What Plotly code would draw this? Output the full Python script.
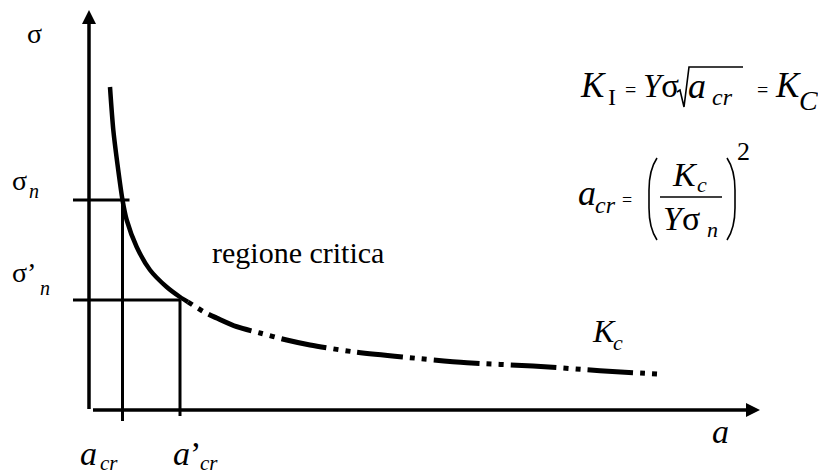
import plotly.graph_objects as go

W, H = 818, 475

# Critical stress curve sigma(a): solid branch, then the dash-dot-dot continuation
a_solid = [2.1, 2.43, 2.83, 3.35, 3.77, 4.77, 6.1, 7.77, 9.1, 9.9]
sigma_solid = [32.3, 28.0, 24.7, 21.0, 19.0, 16.3, 14.0, 12.3, 11.3, 10.8]
a_dashed = [9.9, 11.7, 12.77, 14.77, 17.1, 19.77, 22.1, 26.4, 31.4, 37.8, 44.4, 51.1, 56.8]
sigma_dashed = [10.8, 9.7, 9.2, 8.33, 7.7, 7.0, 6.5, 5.83, 5.3, 4.73, 4.4, 3.93, 3.6]

# Nominal stresses and their critical crack lengths
sigma_n = 21.0
sigma_n_prime = 11.0
a_cr = 3.35
a_cr_prime = 9.1

# Visible window and axis lengths
x_range = [-8.9, 72.9]
y_range = [-6.5, 41.0]
a_axis_end = 67.1
sigma_axis_end = 40.0

SERIF = "Liberation Serif"
INK = "black"


def to_x(px):
    return x_range[0] + px * (x_range[1] - x_range[0]) / W


def to_y(py):
    return y_range[1] - py * (y_range[1] - y_range[0]) / H


def seg(xs, ys, width=3):
    return go.Scatter(x=xs, y=ys, mode="lines", hoverinfo="skip",
                      line=dict(color=INK, width=width))


fig = go.Figure()

# axes with arrowheads
fig.add_trace(seg([0, 0], [0.1, sigma_axis_end - 1.0], 3.5))
fig.add_trace(seg([0.4, a_axis_end - 1.0], [0, 0], 3.5))
fig.add_trace(go.Scatter(x=[0], y=[sigma_axis_end], mode="markers", hoverinfo="skip",
                         marker=dict(symbol="arrow-up", size=14, color=INK, line=dict(width=0))))
fig.add_trace(go.Scatter(x=[a_axis_end], y=[0], mode="markers", hoverinfo="skip",
                         marker=dict(symbol="arrow-right", size=14, color=INK, line=dict(width=0))))

# guide lines for the two nominal stresses
fig.add_trace(seg([-1.6, a_cr + 0.7], [sigma_n, sigma_n]))
fig.add_trace(seg([a_cr, a_cr], [sigma_n, -1.1]))
fig.add_trace(seg([-1.6, a_cr_prime], [sigma_n_prime, sigma_n_prime]))
fig.add_trace(seg([a_cr_prime, a_cr_prime], [sigma_n_prime, -0.6]))

# the curve
fig.add_trace(go.Scatter(x=a_solid, y=sigma_solid, mode="lines", hoverinfo="skip",
                         line=dict(color=INK, width=4.5, shape="spline", smoothing=0.8)))
fig.add_trace(go.Scatter(x=a_dashed, y=sigma_dashed, mode="lines", hoverinfo="skip",
                         line=dict(color=INK, width=5, shape="spline", smoothing=0.8,
                                   dash="5px,7px,5px,7px,46px,7px")))

# text runs: left edge, baseline (pixels), font size, content
runs = [
    (27, 43, 28, "σ"),
    (12, 190, 28, "σ"), (29, 198, 20, "<i>n</i>"),
    (12, 282, 28, "σ’"), (40, 295, 20, "<i>n</i>"),
    (80, 465, 34, "<i>a</i>"), (100, 470, 21, "<i>cr</i>"),
    (173, 465, 34, "<i>a</i>’"), (200, 470, 21, "<i>cr</i>"),
    (712, 443, 34, "<i>a</i>"),
    (592, 342, 32, "<i>K</i>"), (613, 350, 22, "<i>c</i>"),
    (212, 263, 30, "regione critica"),
    # K_I = Y sigma sqrt(a_cr) = K_C
    (580, 97, 35, "<i>K</i>"), (608, 105, 24, "I"),
    (625, 97, 20, "="),
    (643, 97, 33, "<i>Y</i>σ"),
    (688, 98, 36, "<i>a</i>"), (712, 105, 24, "<i>cr</i>"),
    (757, 97, 20, "="),
    (775, 97, 35, "<i>K</i>"), (799, 110, 28, "<i>C</i>"),
    # a_cr = (K_c / (Y sigma_n))^2
    (578, 205, 36, "<i>a</i>"), (595, 213, 24, "<i>cr</i>"),
    (622, 206, 18, "="),
    (672, 186, 34, "<i>K</i>"), (697, 192, 22, "<i>c</i>"),
    (663, 230, 34, "<i>Y</i>σ"), (707, 237, 22, "<i>n</i>"),
    (737, 160, 26, "2"),
]

annotations = []
for px, base, size, text in runs:
    annotations.append(dict(
        x=to_x(px), y=to_y(base - 0.3375 * size), xref="x", yref="y",
        xanchor="left", yanchor="middle", showarrow=False, text=text,
        borderpad=0, borderwidth=0,
        font=dict(family=SERIF, size=size, color=INK)))


def path(points):
    return "M " + " L ".join(f"{to_x(px):.3f},{to_y(py):.3f}" for px, py in points)


def curve_path(cmds):
    out = []
    for c in cmds:
        if isinstance(c, str):
            out.append(c)
        else:
            out.append(f"{to_x(c[0]):.3f},{to_y(c[1]):.3f}")
    return " ".join(out)


glyph = dict(color=INK, width=1.6)
shapes = [
    # radical sign with its bar
    dict(type="path", xref="x", yref="y", line=glyph,
         path=path([(677, 92), (680, 90), (684, 107), (689, 67), (743, 67)])),
    # fraction bar
    dict(type="path", xref="x", yref="y", line=glyph, path=path([(660, 197), (722, 197)])),
    # tall parentheses
    dict(type="path", xref="x", yref="y", line=glyph,
         path=curve_path(["M", (657, 158), "Q", (649, 170), (649, 190), "L", (649, 208),
                          "Q", (649, 228), (657, 240)])),
    dict(type="path", xref="x", yref="y", line=glyph,
         path=curve_path(["M", (727, 158), "Q", (735, 170), (735, 190), "L", (735, 208),
                          "Q", (735, 228), (727, 240)])),
]

fig.update_layout(
    width=W, height=H, margin=dict(l=0, r=0, t=0, b=0),
    paper_bgcolor="white", plot_bgcolor="white", showlegend=False,
    xaxis=dict(range=x_range, visible=False, fixedrange=True),
    yaxis=dict(range=y_range, visible=False, fixedrange=True),
    annotations=annotations, shapes=shapes,
)

fig.write_html("out.html")
